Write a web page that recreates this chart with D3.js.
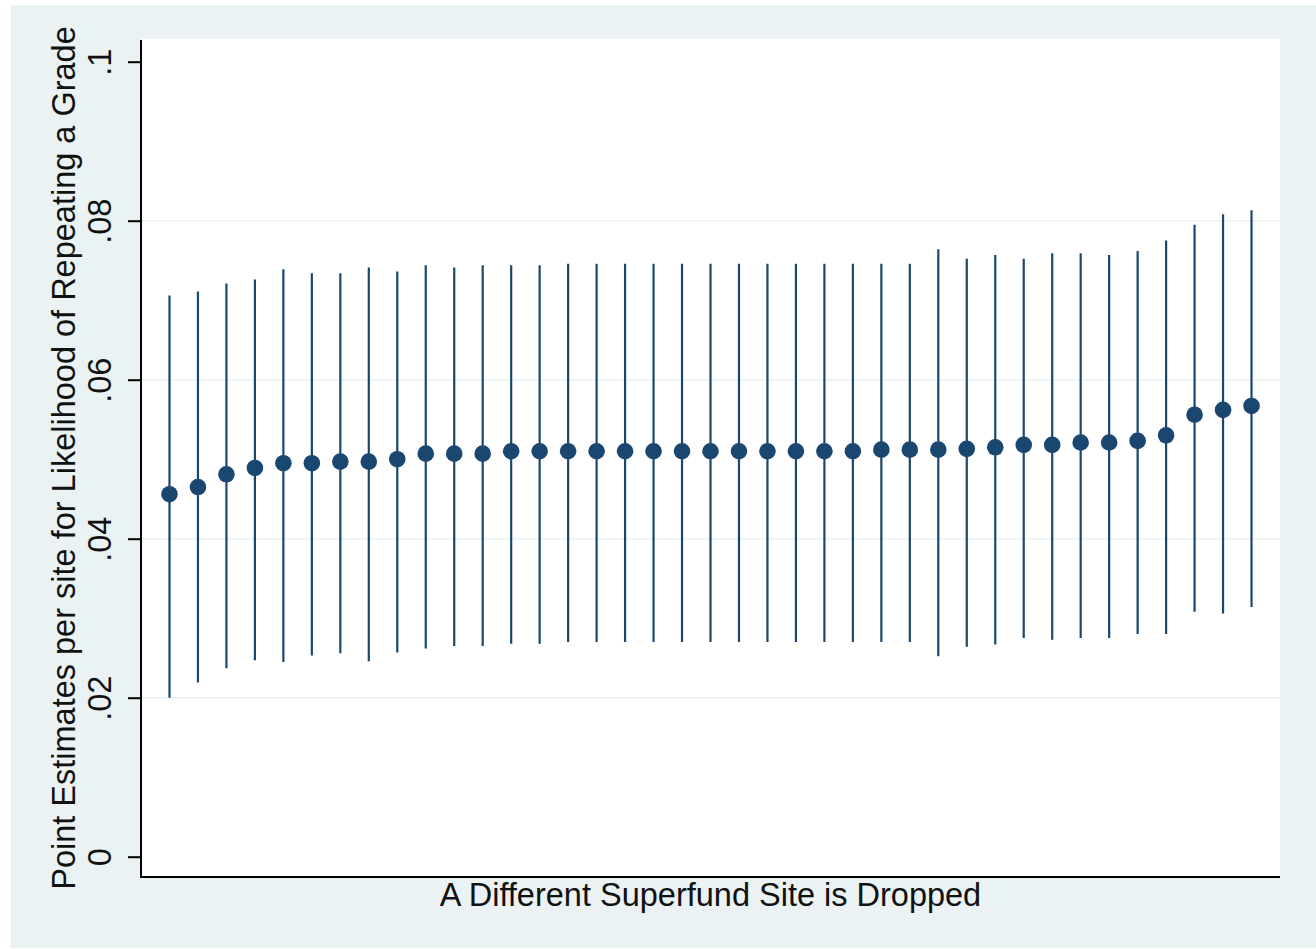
<!DOCTYPE html>
<html>
<head>
<meta charset="utf-8">
<script src="https://cdn.jsdelivr.net/npm/d3@7"></script>
<style>
  html, body { margin: 0; padding: 0; background: #ffffff; }
  svg { display: block; }
  text { font-family: "Liberation Sans", Arial, sans-serif; fill: #111; }
</style>
</head>
<body>
<svg id="chart" width="1316" height="949"></svg>
<script>
// ---- data ----
const sites = [1,2,3,4,5,6,7,8,9,10,11,12,13,14,15,16,17,18,19,20,21,22,23,24,25,26,27,28,29,30,31,32,33,34,35,36,37,38,39];
const estimates = [0.0456,0.0465,0.0481,0.0489,0.0495,0.0495,0.0497,0.0497,0.0500,0.0507,
                   0.0507,0.0507,0.0510,0.0510,0.0510,0.0510,0.0510,0.0510,0.0510,0.0510,
                   0.0510,0.0510,0.0510,0.0510,0.0510,0.0512,0.0512,0.0512,0.0513,0.0515,
                   0.0518,0.0518,0.0521,0.0521,0.0523,0.0530,0.0556,0.0562,0.0567];
const upper = [0.0706,0.0711,0.0721,0.0726,0.0739,0.0734,0.0734,0.0741,0.0736,0.0744,
               0.0741,0.0744,0.0744,0.0744,0.0746,0.0746,0.0746,0.0746,0.0746,0.0746,
               0.0746,0.0746,0.0746,0.0746,0.0746,0.0746,0.0746,0.0764,0.0752,0.0757,
               0.0752,0.0759,0.0759,0.0757,0.0762,0.0775,0.0795,0.0808,0.0813];
const lower = [0.0200,0.0219,0.0237,0.0247,0.0245,0.0253,0.0256,0.0246,0.0257,0.0262,
               0.0265,0.0265,0.0268,0.0268,0.0270,0.0270,0.0270,0.0270,0.0270,0.0270,
               0.0270,0.0270,0.0270,0.0270,0.0270,0.0270,0.0270,0.0252,0.0264,0.0267,
               0.0275,0.0273,0.0275,0.0275,0.0280,0.0280,0.0308,0.0306,0.0314];
const yTicks = [0, 0.02, 0.04, 0.06, 0.08, 0.1];
const yTickLabels = ["0", ".02", ".04", ".06", ".08", ".1"];
const gridTicks = [0.02, 0.04, 0.06, 0.08];
const xTitle = "A Different Superfund Site is Dropped";
const yTitle = "Point Estimates per site for Likelihood of Repeating a Grade";

// ---- layout ----
const W = 1316, H = 949;
const plot = { left: 141, right: 1280, top: 39, bottom: 877 };
const navy = "#1a476f";
const bg = "#eaf2f3";
const fontSize = "32.5px";

const svg = d3.select("#chart");

// outer graph region
svg.append("rect").attr("x", 11).attr("y", 5).attr("width", W - 11).attr("height", 943).attr("fill", bg);
// plot region
svg.append("rect").attr("x", plot.left).attr("y", plot.top)
   .attr("width", plot.right - plot.left).attr("height", plot.bottom - plot.top).attr("fill", "#ffffff");

const x = d3.scaleLinear().domain([0, 40]).range([plot.left, plot.right]);
const y = d3.scaleLinear().domain([0, 0.1]).range([856.7, 61.7]);

// gridlines
svg.append("g").selectAll("line").data(gridTicks).join("line")
  .attr("x1", plot.left).attr("x2", plot.right)
  .attr("y1", d => y(d)).attr("y2", d => y(d))
  .attr("stroke", bg).attr("stroke-width", 1.5);

// y axis
const yAxis = d3.axisLeft(y).tickValues(yTicks)
  .tickFormat((d, i) => yTickLabels[i]).tickSize(13).tickSizeOuter(0);
const gy = svg.append("g").attr("transform", `translate(${plot.left},0)`).call(yAxis);
gy.select(".domain").remove();
gy.selectAll(".tick line").attr("stroke", "#000").attr("stroke-width", 2);
gy.selectAll(".tick text")
  .attr("x", null).attr("dy", null)
  .attr("transform", "translate(-30,0) rotate(-90)")
  .attr("text-anchor", "middle")
  .style("font-size", fontSize)
  .style("font-family", "'Liberation Sans', Arial, sans-serif")
  .attr("fill", "#111");

// axis lines (left and bottom)
svg.append("line").attr("x1", plot.left).attr("x2", plot.left)
  .attr("y1", plot.top + 1).attr("y2", plot.bottom).attr("stroke", "#000").attr("stroke-width", 2);
svg.append("line").attr("x1", plot.left - 1).attr("x2", plot.right)
  .attr("y1", plot.bottom).attr("y2", plot.bottom).attr("stroke", "#000").attr("stroke-width", 2);

// error bars
svg.append("g").selectAll("line").data(sites).join("line")
  .attr("x1", (d) => x(d)).attr("x2", (d) => x(d))
  .attr("y1", (d, i) => y(lower[i])).attr("y2", (d, i) => y(upper[i]))
  .attr("stroke", navy).attr("stroke-width", 2.2);

// point estimates
svg.append("g").selectAll("circle").data(sites).join("circle")
  .attr("cx", d => x(d)).attr("cy", (d, i) => y(estimates[i]))
  .attr("r", 8.3).attr("fill", navy);

// titles
svg.append("text").attr("x", (plot.left + plot.right) / 2).attr("y", 906)
  .attr("text-anchor", "middle").style("font-size", fontSize).text(xTitle);
svg.append("text")
  .attr("transform", `translate(75,${(plot.top + plot.bottom) / 2}) rotate(-90)`)
  .attr("text-anchor", "middle").style("font-size", fontSize).text(yTitle);
</script>
</body>
</html>
